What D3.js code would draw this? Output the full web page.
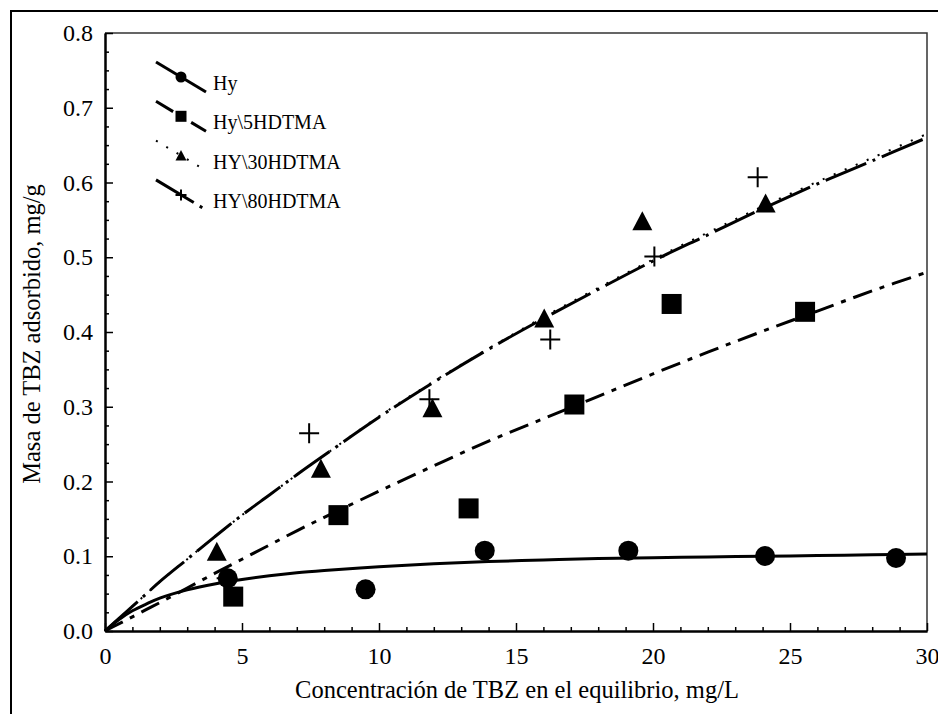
<!DOCTYPE html>
<html>
<head>
<meta charset="utf-8">
<script src="https://cdn.jsdelivr.net/npm/d3@7"></script>
<style>
  body { margin: 0; background: #fff; }
  svg { display: block; font-family: "Liberation Serif", "Times New Roman", serif; }
</style>
</head>
<body>
<script>
var hyX = [4.48, 9.51, 13.86, 19.1, 24.09, 28.87]
var hyY = [0.0705, 0.0557, 0.1075, 0.1075, 0.1003, 0.0977]
var hy5X = [4.68, 8.52, 13.27, 17.13, 20.68, 25.55]
var hy5Y = [0.046, 0.155, 0.164, 0.303, 0.4375, 0.427]
var hy30X = [4.08, 7.88, 11.95, 16.03, 19.61, 24.11]
var hy30Y = [0.106, 0.217, 0.298, 0.418, 0.548, 0.572]
var hy80X = [4.44, 7.45, 11.84, 16.25, 20.05, 23.82]
var hy80Y = [0.0705, 0.2645, 0.31, 0.39, 0.501, 0.607]

// curvas de ajuste
var fitX = [0, 0.5, 1, 1.5, 2, 3, 4, 5, 6, 7, 8, 10, 12, 14, 16, 18, 20, 22, 24, 26, 28, 30]
var fitHy = [0, 0.015, 0.027, 0.036, 0.044, 0.055, 0.063, 0.069, 0.074, 0.078, 0.081, 0.086, 0.090, 0.093, 0.095, 0.097, 0.098, 0.099, 0.100, 0.101, 0.102, 0.103]
var fit5 = [0, 0.0095, 0.019, 0.0285, 0.038, 0.0575, 0.077, 0.096, 0.115, 0.134, 0.152, 0.187, 0.221, 0.254, 0.284, 0.314, 0.344, 0.373, 0.401, 0.428, 0.455, 0.48]
var fit30 = [0, 0.0165, 0.033, 0.0495, 0.066, 0.096, 0.126, 0.155, 0.182, 0.209, 0.235, 0.287, 0.334, 0.378, 0.420, 0.459, 0.497, 0.533, 0.568, 0.601, 0.633, 0.665]
var fit80 = [0, 0.0165, 0.033, 0.0495, 0.066, 0.096, 0.126, 0.155, 0.182, 0.209, 0.235, 0.286, 0.333, 0.377, 0.418, 0.457, 0.495, 0.530, 0.565, 0.598, 0.629, 0.660]

var legendNames = ["Hy", "Hy\\5HDTMA", "HY\\30HDTMA", "HY\\80HDTMA"]
var xTicks = [0, 5, 10, 15, 20, 25, 30]
var yTicks = [0.0, 0.1, 0.2, 0.3, 0.4, 0.5, 0.6, 0.7, 0.8]

var width = 938
var height = 714
var plotLeft = 105, plotRight = 927, plotTop = 33, plotBottom = 631

var svg = d3.select("body").append("svg")
    .attr("width", width)
    .attr("height", height)

// marco exterior
svg.append("path")
    .attr("d", "M" + (width + 5) + ",11 L11,11 L11," + (height + 5))
    .attr("fill", "none")
    .attr("stroke", "#000")
    .attr("stroke-width", 2)

var x = d3.scaleLinear().domain([0, 30]).range([plotLeft, plotRight])
var y = d3.scaleLinear().domain([0, 0.8]).range([plotBottom, plotTop])

// borde superior y derecho
svg.append("path")
    .attr("d", "M" + plotLeft + "," + plotTop + " L" + plotRight + "," + plotTop + " L" + plotRight + "," + plotBottom)
    .attr("fill", "none")
    .attr("stroke", "#333")
    .attr("stroke-width", 1.5)

// ejes con ticks hacia dentro
var xMinor = d3.range(0, 31, 1).filter(function (d) { return d % 5 != 0 })
var yMinor = d3.range(0, 33, 1).filter(function (d) { return d % 4 != 0 }).map(function (d) { return d * 0.025 })

var gx = svg.append("g").attr("transform", "translate(0," + plotBottom + ")")
gx.append("g").call(d3.axisBottom(x).tickValues(xMinor).tickSizeInner(-4).tickSizeOuter(0).tickFormat(""))
gx.append("g").call(d3.axisBottom(x).tickValues(xTicks).tickSizeInner(-8).tickSizeOuter(0).tickPadding(16).tickFormat(d3.format("d")))
gx.selectAll(".domain").attr("stroke-width", 2)
gx.selectAll("line").attr("stroke-width", 1.5)
gx.selectAll("text").attr("font-size", 24).attr("font-family", "Liberation Serif").attr("fill", "#000")

var gy = svg.append("g").attr("transform", "translate(" + plotLeft + ",0)")
gy.append("g").call(d3.axisLeft(y).tickValues(yMinor).tickSizeInner(-4).tickSizeOuter(0).tickFormat(""))
gy.append("g").call(d3.axisLeft(y).tickValues(yTicks).tickSizeInner(-8).tickSizeOuter(0).tickPadding(12).tickFormat(d3.format(".1f")))
gy.selectAll(".domain").attr("stroke-width", 2)
gy.selectAll("line").attr("stroke-width", 1.5)
gy.selectAll("text").attr("font-size", 24).attr("font-family", "Liberation Serif").attr("fill", "#000")

// titulos
svg.append("text")
    .attr("x", (plotLeft + plotRight) / 2 + 1)
    .attr("y", 698)
    .attr("text-anchor", "middle")
    .attr("font-size", 24.5)
    .text("Concentración de TBZ en el equilibrio, mg/L")

svg.append("text")
    .attr("transform", "translate(40," + 334 + ") rotate(-90)")
    .attr("text-anchor", "middle")
    .attr("font-size", 24.5)
    .text("Masa de TBZ adsorbido, mg/g")

// estilos de linea
var styles = [
    { dash: null, width: 3 },
    { dash: "20,8,5,8", width: 3 },
    { dash: "2,10", width: 2 },
    { dash: "44,7,3,7", width: 3 }
]

var line = d3.line()
    .x(function (d) { return x(d[0]) })
    .y(function (d) { return y(d[1]) })
    .curve(d3.curveCatmullRom.alpha(0.5))

var fits = [fitHy, fit5, fit30, fit80]
var drawOrder = [0, 1, 3, 2]
drawOrder.forEach(function (k) {
    svg.append("path")
        .datum(fitX.map(function (v, i) { return [v, fits[k][i]] }))
        .attr("d", line)
        .attr("fill", "none")
        .attr("stroke", "#000")
        .attr("stroke-width", styles[k].width)
        .attr("stroke-dasharray", styles[k].dash)
})

// marcadores
function drawMarker(g, type, cx, cy, s) {
    if (type == 0) {
        g.append("circle").attr("cx", cx).attr("cy", cy).attr("r", s / 2).attr("fill", "#000")
    } else if (type == 1) {
        g.append("rect").attr("x", cx - s / 2).attr("y", cy - s / 2).attr("width", s).attr("height", s).attr("fill", "#000")
    } else if (type == 2) {
        g.append("path")
            .attr("d", "M" + cx + "," + (cy - s * 0.5) + " L" + (cx + s / 2) + "," + (cy + s * 0.45) + " L" + (cx - s / 2) + "," + (cy + s * 0.45) + "Z")
            .attr("fill", "#000")
    } else {
        g.append("path")
            .attr("d", "M" + (cx - s / 2) + "," + cy + " H" + (cx + s / 2) + " M" + cx + "," + (cy - s / 2) + " V" + (cy + s / 2))
            .attr("stroke", "#000")
            .attr("stroke-width", 2)
    }
}

var seriesX = [hyX, hy5X, hy30X, hy80X]
var seriesY = [hyY, hy5Y, hy30Y, hy80Y]
var marks = svg.append("g")
seriesX.forEach(function (xs, k) {
    xs.forEach(function (v, i) {
        drawMarker(marks, k, x(v), y(seriesY[k][i]), 20)
    })
})

// leyenda
var legend = svg.append("g")
legendNames.forEach(function (name, k) {
    var cy = 77 + k * 39.3
    legend.append("line")
        .attr("x1", 156).attr("y1", cy - 15)
        .attr("x2", 206).attr("y2", cy + 15)
        .attr("stroke", "#000")
        .attr("stroke-width", styles[k].width)
        .attr("stroke-dasharray", styles[k].dash)
    drawMarker(legend, k, 181, cy, 11)
    legend.append("text")
        .attr("x", 213)
        .attr("y", cy + 13)
        .attr("font-size", 20)
        .text(name)
})
</script>
</body>
</html>
